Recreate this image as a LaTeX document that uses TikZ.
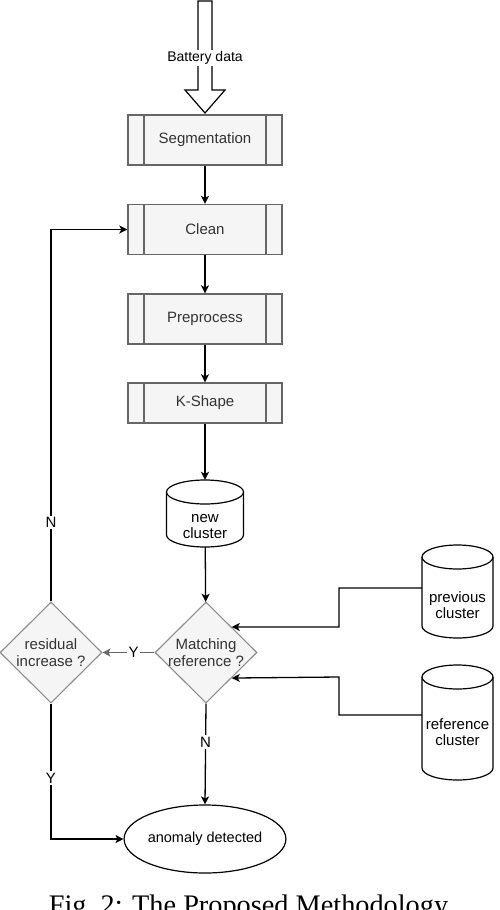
\documentclass[tikz,border=0pt]{standalone}
\usepackage{fontspec}
\setmainfont{Liberation Serif}
\newfontfamily\arialf{Liberation Sans}
\usetikzlibrary{shapes.geometric,arrows.meta}
\definecolor{boxfill}{HTML}{F5F5F5}
\definecolor{boxline}{HTML}{666666}
\definecolor{boxtext}{HTML}{333333}
\definecolor{diamline}{HTML}{8C8C8C}
\newcommand{\mycyl}[5]{%
  \pgfmathsetmacro\cL{#2-#5}\pgfmathsetmacro\cR{#2+#5}%
  \pgfmathsetmacro\cT{#3+12}\pgfmathsetmacro\cB{#4-12}%
  \pgfmathsetmacro\cM{(#3+#4)/2}\pgfmathsetmacro\cH{#4-#3}%
  \pgfmathsetmacro\cW{2*#5}\pgfmathsetmacro\cTx{(\cT+12+#4)/2}%
  \node[minimum width=\cW pt, minimum height=\cH pt, inner sep=0pt] (#1) at (#2,\cM) {};
  \draw[cylst] (\cL,\cT) -- (\cL,\cB) arc[start angle=180,end angle=360,x radius=#5 pt,y radius=12pt]
     -- (\cR,\cT) arc[start angle=0,end angle=180,x radius=#5 pt,y radius=12pt] -- cycle;
  \draw[cylst] (\cL,\cT) arc[start angle=180,end angle=360,x radius=#5 pt,y radius=12pt];
}
\tikzset{
  conn/.style={draw=black, line width=1.3pt, -{Stealth[length=8pt,width=8pt,inset=2pt]}},
  procbox/.style={draw=boxline, fill=boxfill, line width=1.4pt, minimum width=154pt,
    minimum height=50pt, inner sep=0pt, text=boxtext, font=\arialf\fontsize{15}{18}\selectfont,
    path picture={\draw[draw=boxline, line width=1.4pt]
      ([xshift=16pt]path picture bounding box.north west) -- ([xshift=16pt]path picture bounding box.south west)
      ([xshift=-16pt]path picture bounding box.north east) -- ([xshift=-16pt]path picture bounding box.south east);}},
  diam/.style={diamond, draw=diamline, fill=boxfill, line width=1.1pt, minimum width=102pt,
    minimum height=101pt, inner sep=0pt},
  dtext/.style={text=boxtext, align=center, font=\arialf\fontsize{15}{17}\selectfont, inner sep=0pt},
  cylst/.style={draw=black, line width=1.2pt, fill=white},
  cyltext/.style={text=black, align=center, font=\arialf\fontsize{15}{17}\selectfont, inner sep=0pt},
  lbl/.style={fill=white, text=black, font=\arialf\fontsize{15}{17}\selectfont, inner sep=1.5pt},
}
\begin{document}
\begin{tikzpicture}[x=1pt,y=-1pt]
\useasboundingbox (0,0) rectangle (500,910);
\clip (0,0) rectangle (500,910);
% big input arrow
\draw[line width=1.2pt, fill=white] (198,1) -- (198,90) -- (185,90) -- (205,113) -- (225,90) -- (212,90) -- (212,1) -- cycle;
\node[lbl, font=\arialf\fontsize{14}{16}\selectfont] (batt) at (205,58) {Battery data};
% process boxes
\node[procbox] (seg) at (205,140) {Segmentation};
\node[procbox] (clean) at (205,229.5) {Clean};
\node[procbox] (pre) at (205,319) {Preprocess};
\node[procbox, minimum height=40pt] (kshape) at (205,403) {K-Shape};
% cylinders
\mycyl{new}{205}{480}{547}{38.5}
\node[cyltext] (newt) at (205,527) {new\\[-1pt]cluster};
\mycyl{prev}{457.5}{545}{638}{35.5}
\node[cyltext] (prevt) at (457.5,605) {previous\\[-1pt]cluster};
\mycyl{ref}{457.5}{665}{780}{35.5}
\node[cyltext] (reft) at (457.5,732) {reference\\[-1pt]cluster};
% diamonds
\node[diam] (match) at (206,652.5) {};
\node[dtext] (matcht) at (match) {Matching\\reference ?};
\node[diam] (resid) at (51,652.5) {};
\node[dtext] (residt) at (resid) {residual\\increase ?};
% end ellipse
\node[ellipse, draw=black, line width=1.2pt, minimum width=155pt, minimum height=68pt, inner sep=0pt,
  font=\arialf\fontsize{14.5}{17}\selectfont] (anom) at (205,839) {anomaly detected};
% caption
\node[anchor=base, font=\fontsize{28.3}{32}\selectfont, inner sep=0pt] (cap) at (248.5,914) {Fig.~2: The Proposed Methodology};
% connectors
\draw[conn] (seg) -- (clean);
\draw[conn] (clean) -- (pre);
\draw[conn] (pre) -- (kshape);
\draw[conn] (kshape) -- (new);
\draw[conn] (new) -- (match);
\coordinate (bendA) at (339,627);
\coordinate (bendB) at (339,677);
\draw[conn] ([yshift=3.5pt]prev.west) -| (bendA) -- (match.north east);
\draw[conn] ([yshift=7.5pt]ref.west) -| (bendB) -- (match.south east);
\draw[conn, draw=boxline, line width=1.6pt, -{Stealth[length=8pt,width=8pt,inset=2pt]}] (match.west) -- node[lbl, pos=0.4] {Y} (resid.east);
\draw[conn] (resid.north) |- node[lbl, pos=0.106] {N} (clean.west);
\draw[conn] (resid.south) |- node[lbl, pos=0.275] {Y} (anom.west);
\draw[conn] (match.south) -- node[lbl, pos=0.38] {N} (anom.north);
\end{tikzpicture}
\end{document}
